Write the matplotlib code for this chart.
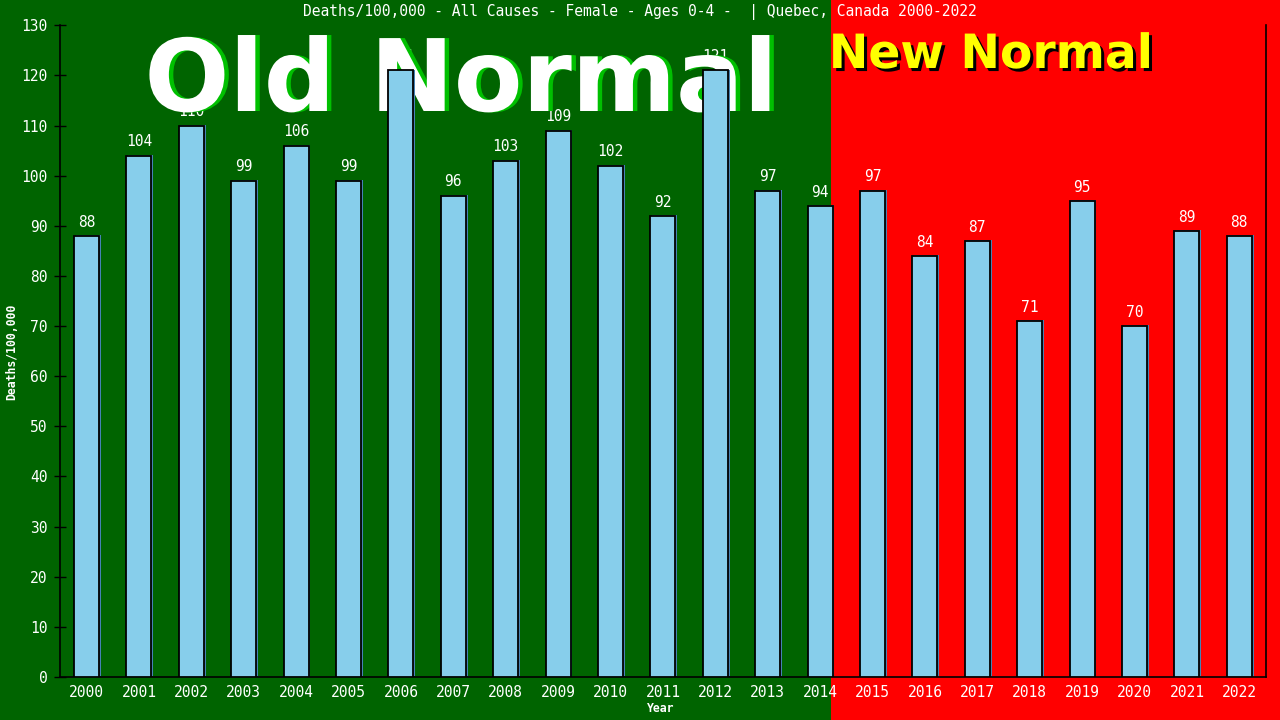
import matplotlib
matplotlib.use("Agg")
import matplotlib.pyplot as plt
import matplotlib.patheffects as pe
from matplotlib.patches import Rectangle
from matplotlib.transforms import blended_transform_factory

years = [str(y) for y in range(2000, 2023)]
values = [88, 104, 110, 99, 106, 99, 121, 96, 103, 109, 102, 92, 121, 97, 94,
          97, 84, 87, 71, 95, 70, 89, 88]
yticks = list(range(0, 131, 10))
title = "Deaths/100,000 - All Causes - Female - Ages 0-4 -  | Quebec, Canada 2000-2022"
split_at = 14.2  # boundary between "Old Normal" and "New Normal" (data x)

GREEN = "#006400"
RED = "#ff0000"
BAR = "#87ceeb"
MONO = "DejaVu Sans Mono"

fig = plt.figure(figsize=(12.8, 7.2), dpi=100)
fig.patch.set_facecolor(RED)
ax = fig.add_axes([60.3 / 1280, 43 / 720, 1205.2 / 1280, 651.7 / 720])
ax.set_facecolor("none")

trans = blended_transform_factory(ax.transData, fig.transFigure)
ax.add_patch(Rectangle((-20, 0), split_at + 20, 1, transform=trans,
                       facecolor=GREEN, edgecolor="none", zorder=-10, clip_on=False))

x = list(range(len(years)))
bars = ax.bar(x, values, width=0.48, color=BAR, edgecolor="black", linewidth=1.3, zorder=4)
for b in bars:
    b.set_path_effects([pe.SimplePatchShadow(offset=(1.2, 0.6), shadow_rgbFace="#4682b4", alpha=1.0),
                        pe.Normal()])

for xi, v in zip(x, values):
    ax.annotate(str(v), (xi, v), xytext=(0, 4.5), textcoords="offset points",
                ha="center", va="bottom", color="white", fontsize=10.5,
                family=MONO, zorder=2)

ax.set_xlim(-0.5, len(years) - 0.5)
ax.set_ylim(0, 130)
ax.set_yticks(yticks)
ax.set_xticks(x)
ax.set_xticklabels(years)
ax.tick_params(axis="x", length=0, pad=6, colors="white", labelsize=10.5)
ax.tick_params(axis="y", direction="inout", length=8, width=1, color="black",
               labelcolor="white", labelsize=10.5, pad=5)
for lab in ax.get_xticklabels() + ax.get_yticklabels():
    lab.set_family(MONO)
ax.spines["top"].set_visible(False)
for s in ["left", "bottom", "right"]:
    ax.spines[s].set_color("black")
    ax.spines[s].set_linewidth(1.2)

ax.text(0.5, 0.983, title, transform=fig.transFigure, ha="center", va="center",
        color="white", fontsize=10.5, family=MONO, zorder=5, clip_on=False)

ax.text(461 / 1280, 1 - 111 / 720, "Old Normal", transform=fig.transFigure,
        ha="center", va="baseline", color="white", fontsize=72, fontweight="bold",
        family="DejaVu Sans", zorder=3, clip_on=False,
        path_effects=[pe.withSimplePatchShadow(offset=(3.2, 0), shadow_rgbFace="#00c000", alpha=1.0)])

ax.text(991 / 1280, 1 - 68 / 720, "New Normal", transform=fig.transFigure,
        ha="center", va="baseline", color="#ffff00", fontsize=34, fontweight="bold",
        family="DejaVu Sans", zorder=3, clip_on=False,
        path_effects=[pe.withSimplePatchShadow(offset=(2.2, -2.2), shadow_rgbFace="black", alpha=1.0)])

ax.text(12 / 1280, 0.511, "Deaths/100,000", transform=fig.transFigure, rotation=90,
        ha="center", va="center", color="white", fontsize=8.3, fontweight="bold",
        family=MONO, clip_on=False)
ax.text(661 / 1280, 1 - 709 / 720, "Year", transform=fig.transFigure,
        ha="center", va="center", color="white", fontsize=8.3, fontweight="bold",
        family=MONO, clip_on=False)

fig.savefig("out.png", dpi=100, facecolor=fig.get_facecolor())
